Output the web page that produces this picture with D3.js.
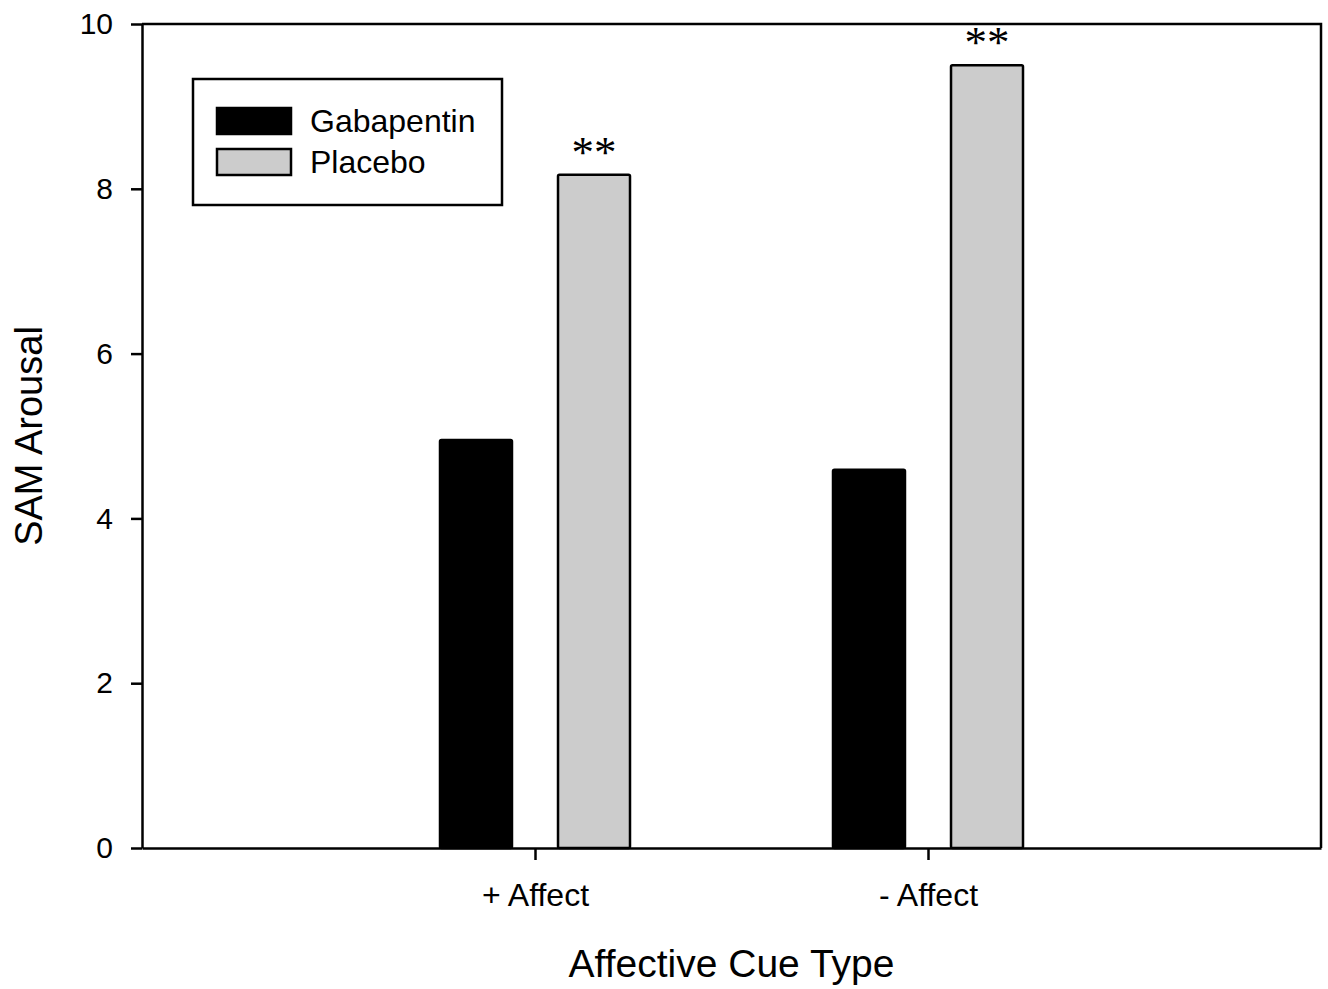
<!DOCTYPE html>
<html>
<head>
<meta charset="utf-8">
<script src="https://cdn.jsdelivr.net/npm/d3@7"></script>
<style>
  body { margin: 0; background: #fff; }
  svg { display: block; font-family: "Liberation Sans", Arial, sans-serif; }
  .axis path, .axis line { stroke: #000; stroke-width: 2.5px; }
  .axis text { fill: #000; font-family: "Liberation Sans", Arial, sans-serif; }
</style>
</head>
<body>
<div id="chart"></div>
<script>
// data
const categories = ["+ Affect", "- Affect"];
const series = ["Gabapentin", "Placebo"];
const gabapentin = [4.95, 4.59];
const placebo = [8.17, 9.50];
const significance = ["**", "**"];   // marks above the placebo bars
const yTicks = [0, 2, 4, 6, 8, 10];
const seriesColor = ["#000000", "#cccccc"];

const width = 1328, height = 989;
const margin = {top: 24, right: 7, bottom: 141, left: 142};
const innerWidth = width - margin.left - margin.right,
      innerHeight = height - margin.top - margin.bottom;

const rows = categories.map((c, i) => ({
    key: c,
    values: [
        {series: series[0], value: gabapentin[i]},
        {series: series[1], value: placebo[i]}
    ],
    mark: significance[i]
}));

const svg = d3.select("#chart").append("svg")
    .attr("width", width)
    .attr("height", height);

const g = svg.append("g")
    .attr("transform", `translate(${margin.left},${margin.top})`);

const scale = {
    x: d3.scalePoint().domain(categories).range([0, innerWidth]).padding(1),
    x1: d3.scaleBand().domain(series).range([-95, 95]).paddingInner(0.39),
    y: d3.scaleLinear().domain([0, 10]).range([innerHeight, 0]),
    color: d3.scaleOrdinal().domain(series).range(seriesColor)
};

// frame (top and right)
g.append("path")
    .attr("d", `M0,0H${innerWidth}V${innerHeight}`)
    .attr("fill", "none")
    .attr("stroke", "#000")
    .attr("stroke-width", 2.5);

// bars
const group = g.selectAll(".group")
    .data(rows)
    .enter()
    .append("g")
    .attr("class", "group")
    .attr("transform", d => `translate(${scale.x(d.key)},0)`);

group.selectAll(".bar")
    .data(d => d.values)
    .enter()
    .append("rect")
    .attr("class", "bar")
    .attr("x", d => scale.x1(d.series))
    .attr("width", scale.x1.bandwidth())
    .attr("y", d => scale.y(d.value))
    .attr("height", d => innerHeight - scale.y(d.value))
    .attr("rx", 1.5)
    .attr("fill", d => scale.color(d.series))
    .attr("stroke", "#000")
    .attr("stroke-width", 2.5);

group.append("text")
    .attr("class", "sig")
    .attr("x", d => scale.x1(series[1]) + scale.x1.bandwidth() / 2)
    .attr("y", d => scale.y(d.values[1].value) - 8)
    .attr("text-anchor", "middle")
    .style("font-family", "'Liberation Serif', 'Times New Roman', serif")
    .style("font-size", "45px")
    .text(d => d.mark);

// axes
const yAxis = g.append("g")
    .attr("class", "axis")
    .call(d3.axisLeft(scale.y).tickValues(yTicks).tickSize(11).tickPadding(18).tickSizeOuter(0));
yAxis.selectAll("text").style("font-size", "30px");

const xAxis = g.append("g")
    .attr("class", "axis")
    .attr("transform", `translate(0,${innerHeight})`)
    .call(d3.axisBottom(scale.x).tickSize(12).tickPadding(23).tickSizeOuter(0));
xAxis.selectAll("text").style("font-size", "32px");

// axis titles
svg.append("text")
    .attr("transform", `translate(42,${margin.top + innerHeight / 2}) rotate(-90)`)
    .attr("text-anchor", "middle")
    .style("font-size", "38px")
    .text("SAM Arousal");

svg.append("text")
    .attr("x", margin.left + innerWidth / 2)
    .attr("y", 977)
    .attr("text-anchor", "middle")
    .style("font-size", "39px")
    .text("Affective Cue Type");

// legend
const legend = svg.append("g").attr("transform", "translate(193,79)");
legend.append("rect")
    .attr("width", 309)
    .attr("height", 126)
    .attr("fill", "#fff")
    .attr("stroke", "#000")
    .attr("stroke-width", 2.5);

const item = legend.selectAll(".item")
    .data(series)
    .enter()
    .append("g")
    .attr("class", "item")
    .attr("transform", (d, i) => `translate(24,${29 + i * 41})`);

item.append("rect")
    .attr("width", 74)
    .attr("height", 26)
    .attr("fill", d => scale.color(d))
    .attr("stroke", "#000")
    .attr("stroke-width", 2.5);

item.append("text")
    .attr("x", 93)
    .attr("y", 24)
    .style("font-size", "32px")
    .text(d => d);
</script>
</body>
</html>
